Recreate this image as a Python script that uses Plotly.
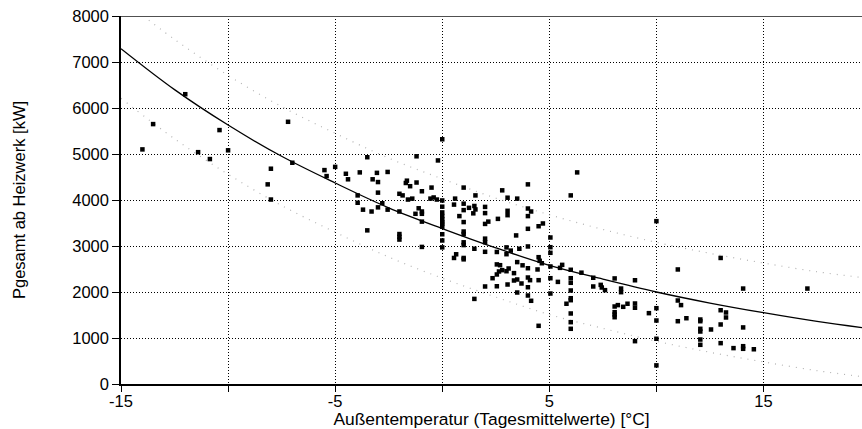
import plotly.graph_objects as go

# Daily mean outdoor temperature [°C] and total heat output of the plant [kW]
temp_c = [
    -14.0, -13.5, -12.0, -11.4, -10.85, -10.4, -10.0, -8.15, -8.0, -8.0, -7.2, -7.0,
    -5.5, -5.4, -5.0,
    -4.5, -4.4, -3.95, -3.95, -3.85, -3.7, -3.5, -3.5, -3.3, -3.25, -3.05, -3.0, -3.0,
    -3.0, -2.8, -2.55, -2.55, -2.0, -2.0, -2.0, -2.0, -2.0, -1.85, -1.7, -1.65, -1.6,
    -1.5, -1.4, -1.25, -1.2, -1.2, -1.1, -0.95, -0.95, -0.95, -0.95, -0.95, -0.55, -0.5,
    -0.4, -0.25, -0.2,
    0.0, 0.0, 0.0, 0.0, 0.0, 0.0, 0.0, 0.0, 0.0, 0.0, 0.0, 0.0,
    0.55, 0.55, 0.6, 0.65, 0.8,
    1.0, 1.0, 1.0, 1.0, 1.0, 1.0, 1.0, 1.0, 1.0, 1.0,
    1.25, 1.45, 1.5, 1.5, 1.5, 1.55, 1.55,
    2.0, 2.0, 2.0, 2.0, 2.0, 2.0, 2.0, 2.15, 2.35, 2.55, 2.55, 2.55, 2.55, 2.6, 2.65,
    2.7, 2.8, 2.8,
    3.0, 3.0, 3.0, 3.05, 3.05, 3.05, 3.05, 3.1, 3.2, 3.35, 3.35, 3.45, 3.5, 3.5, 3.5,
    3.5, 3.6, 3.7, 3.75,
    4.0, 4.0, 4.0, 4.0, 4.0, 4.0, 4.0, 4.0, 4.0, 4.1, 4.15, 4.15, 4.45, 4.5, 4.5, 4.5,
    4.5, 4.55, 4.65, 4.7,
    5.05, 5.05, 5.05, 5.05, 5.05, 5.05, 5.4, 5.5, 5.6, 5.8,
    6.0, 6.0, 6.0, 6.0, 6.0, 6.0, 6.0, 6.0, 6.0, 6.0, 6.3, 6.5,
    7.05, 7.05, 7.4, 7.45, 7.6,
    8.05, 8.05, 8.05, 8.05, 8.05, 8.2, 8.35, 8.35, 8.45, 8.65,
    9.0, 9.0, 9.0, 9.0, 9.65,
    10.0, 10.0, 10.0, 10.0, 10.0,
    11.0, 11.0, 11.0, 11.15, 11.4,
    12.05, 12.05, 12.05, 12.05, 12.05, 12.05, 12.55,
    13.0, 13.0, 13.0, 13.0, 13.25, 13.25, 13.6,
    14.05, 14.05, 14.05, 14.05, 14.55, 17.05,
]
power_kw = [
    5100, 5650, 6300, 5040, 4890, 5520, 5080, 4340, 4680, 4010, 5700, 4810,
    4650, 4520, 4720,
    4570, 4450, 4100, 3940, 4600, 3790, 4930, 3340, 3750, 4450, 4590, 4390, 4160,
    3840, 3930, 4610, 3790, 4135, 3750, 3260, 3200, 3140, 4100, 4370, 4420, 4010,
    4300, 4030, 3700, 4950, 4380, 3820, 4190, 3750, 3700, 3530, 2980, 4030, 4270,
    4055, 4010, 4860,
    5320, 3990, 3855, 3730, 3650, 3580, 3520, 3480, 3420, 3255, 3120, 2970,
    3900, 2740, 4030, 2820, 3650,
    4270, 3920, 3780, 3520, 3315, 3260, 3080, 3020, 2740, 2710,
    3830, 3710, 3870, 2940, 1850, 4100, 3795,
    3850, 3715, 3480, 3160, 3083, 2874, 2120, 3530, 2300, 2870, 2600, 2381, 2125, 3590, 2446,
    2583, 4210, 2475,
    2970, 2822, 2452, 4050, 3765, 3670, 2163, 2511, 2900, 2410, 2250, 3230, 4030, 2650, 2272,
    1989, 2940, 2185, 2580,
    4340, 3815, 3650, 3374, 2990, 2517, 2315, 2104, 1924, 2257, 3750, 1809, 2490, 3430, 2757, 2257,
    1265, 2678, 2625, 3490,
    3185, 2974, 2852, 2555, 2300, 1967, 2220, 2525, 2590, 1745,
    4100, 2483, 2300, 2200, 2033, 1865, 1822, 1533, 1344, 1200, 4600, 2420,
    2310, 2120, 2155, 2098, 2040,
    2295, 1685, 1561, 1511, 1452, 1715, 2075, 1996, 1678, 1745,
    2255, 1750, 1657, 931, 1540,
    3540, 1648, 1380, 983, 405,
    2490, 1815, 1365, 1715, 1430,
    1402, 1365, 1200, 1141, 967, 852, 1185,
    2740, 1604, 1294, 888, 1555, 1446, 780,
    2075, 1230, 822, 765, 755, 2075,
]

# Regression curve and its scatter band
curve_t = [-15, -12.5, -10, -7.5, -5, -2.5, 0, 2.5, 5, 7.5, 10, 12.5, 15, 17.5, 19.6]
curve_fit = [7290, 6400, 5630, 4950, 4370, 3830, 3380, 2960, 2580, 2280, 2000, 1760, 1550, 1360, 1225]
band_upper = [8380, 7490, 6710, 6030, 5450, 4910, 4460, 4040, 3680, 3360, 3080, 2840, 2630, 2440, 2315]
band_lower = [6210, 5330, 4560, 3880, 3300, 2760, 2300, 1890, 1510, 1210, 930, 690, 480, 290, 160]

x_ticks = [-15, -10, -5, 0, 5, 10, 15]
x_tick_text = ["-15", "", "-5", "", "5", "", "15"]
y_ticks = [0, 1000, 2000, 3000, 4000, 5000, 6000, 7000, 8000]

FONT = "Liberation Sans, Arial, sans-serif"

fig = go.Figure()

for band in (band_upper, band_lower):
    fig.add_trace(go.Scatter(
        x=curve_t, y=band, mode="lines", line_shape="spline",
        line=dict(color="#b4b4b4", width=1.2, dash="1px,6px"),
        hoverinfo="skip", showlegend=False,
    ))

fig.add_trace(go.Scatter(
    x=curve_t, y=curve_fit, mode="lines", line_shape="spline",
    line=dict(color="black", width=1.3),
    showlegend=False,
))

fig.add_trace(go.Scatter(
    x=temp_c, y=power_kw, mode="markers",
    marker=dict(symbol="square", size=4.5, color="black", line=dict(width=0)),
    showlegend=False, cliponaxis=False,
))

# frame line along the top edge
fig.add_shape(type="line", xref="paper", yref="y", x0=0, x1=1, y0=8000, y1=8000,
              line=dict(color="#505050", width=2))

fig.update_layout(
    width=862, height=429,
    margin=dict(l=121, r=0, t=16, b=45),
    paper_bgcolor="white", plot_bgcolor="white",
    font=dict(family=FONT, size=16.5, color="black"),
    xaxis=dict(
        range=[-15, 19.6], tickmode="array", tickvals=x_ticks, ticktext=x_tick_text,
        showgrid=True, gridcolor="black", griddash="1px,2px", gridwidth=1,
        zeroline=False, showline=True, linecolor="black", linewidth=1.5,
        ticks="outside", ticklen=6, tickcolor="black", tickwidth=1,
        ticklabelstandoff=-5,
        title=dict(text="Außentemperatur (Tagesmittelwerte) [°C]", standoff=0,
                   font=dict(size=17.4)),
    ),
    yaxis=dict(
        range=[0, 8000], tickmode="array", tickvals=y_ticks,
        showgrid=True, gridcolor="black", griddash="1px,2px", gridwidth=1,
        zeroline=False, showline=True, linecolor="black", linewidth=1.5,
        ticks="outside", ticklen=7, tickcolor="black", tickwidth=1,
        title=dict(text="Pgesamt ab Heizwerk [kW]", standoff=42,
                   font=dict(size=16.5)),
    ),
)

fig.write_html("out.html")
